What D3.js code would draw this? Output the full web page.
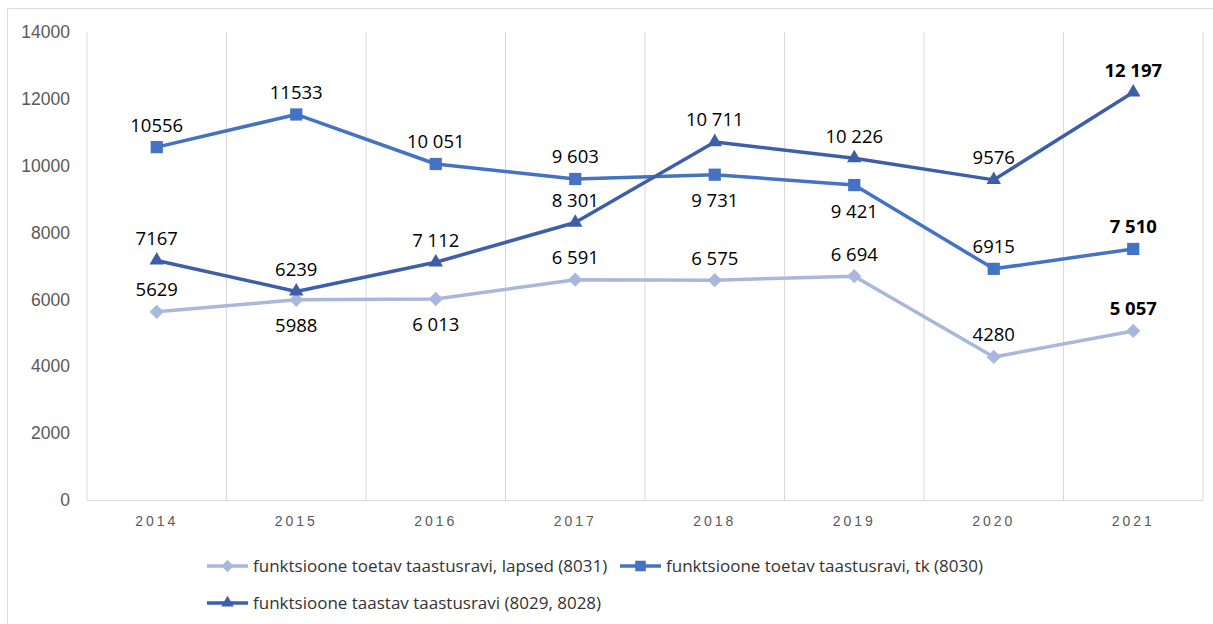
<!DOCTYPE html>
<meta charset="utf-8">
<style>
body { margin: 0; background: #fff; }
svg { display: block; font-family: "Open Sans", "Noto Sans", sans-serif; }
.axis text { fill: #595959; }
.legend text { font-family: "Liberation Sans Narrow", "Open Sans", sans-serif; }
</style>
<svg id="chart" width="1213" height="624"></svg>
<script src="https://d3js.org/d3.v7.min.js"></script>
<script>

var years = ["2014", "2015", "2016", "2017", "2018", "2019", "2020", "2021"];
var yTicks = [0, 2000, 4000, 6000, 8000, 10000, 12000, 14000];

// values per series, and the labels as they are written in the picture
var lapsed = [5629, 5988, 6013, 6591, 6575, 6694, 4280, 5057];
var lapsedText = ["5629", "5988", "6 013", "6 591", "6 575", "6 694", "4280", "5 057"];
var lapsedBelow = [false, true, true, false, false, false, false, false];

var tk = [10556, 11533, 10051, 9603, 9731, 9421, 6915, 7510];
var tkText = ["10556", "11533", "10 051", "9 603", "9 731", "9 421", "6915", "7 510"];
var tkBelow = [false, false, false, false, true, true, false, false];

var taastav = [7167, 6239, 7112, 8301, 10711, 10226, 9576, 12197];
var taastavText = ["7167", "6239", "7 112", "8 301", "10 711", "10 226", "9576", "12 197"];
var taastavBelow = [false, false, false, false, false, false, false, false];

var series = [
  {name: "funktsioone toetav taastusravi, lapsed (8031)", values: lapsed, text: lapsedText, below: lapsedBelow, color: "#a9b7dd", symbol: d3.symbolDiamond2, size: 130},
  {name: "funktsioone toetav taastusravi, tk (8030)", values: tk, text: tkText, below: tkBelow, color: "#4472c4", symbol: d3.symbolSquare2, size: 190},
  {name: "funktsioone taastav taastusravi (8029, 8028)", values: taastav, text: taastavText, below: taastavBelow, color: "#3d5ea9", symbol: d3.symbolTriangle2, size: 150}
];

var svg = d3.select("svg");

// outer frame
svg.append("rect")
    .attr("x", 7.5).attr("y", 8.5)
    .attr("width", 1220).attr("height", 640)
    .attr("fill", "none")
    .attr("stroke", "#dadde3");

var x = d3.scaleBand()
    .domain(years)
    .range([87, 1203]);

var y = d3.scaleLinear()
    .domain([0, 14000])
    .range([500, 32]);

// vertical gridlines between categories
svg.append("g")
  .selectAll("line")
  .data(d3.range(years.length + 1))
  .enter().append("line")
    .attr("x1", function(i) { return 87 + i * x.bandwidth(); })
    .attr("x2", function(i) { return 87 + i * x.bandwidth(); })
    .attr("y1", y(14000))
    .attr("y2", y(0))
    .attr("stroke", "#d9d9d9")
    .attr("stroke-width", 1);

svg.append("line")
    .attr("x1", 87).attr("x2", 1203)
    .attr("y1", y(0) + 0.5).attr("y2", y(0) + 0.5)
    .attr("stroke", "#d9d9d9");

var yAxis = svg.append("g")
    .attr("class", "axis")
    .attr("transform", "translate(70,0)")
    .call(d3.axisLeft(y).tickValues(yTicks).tickSize(0).tickPadding(0).tickFormat(d3.format("d")));
yAxis.select(".domain").remove();
yAxis.selectAll("text").attr("font-size", 17.5);

var xAxis = svg.append("g")
    .attr("class", "axis")
    .attr("transform", "translate(0," + y(0) + ")")
    .call(d3.axisBottom(x).tickSize(0).tickPadding(16));
xAxis.select(".domain").remove();
xAxis.selectAll("text")
    .attr("font-size", 14)
    .attr("letter-spacing", "3px");

var line = d3.line()
    .x(function(d, i) { return x(years[i]) + x.bandwidth() / 2; })
    .y(function(d) { return y(d); });

var g = svg.selectAll(".series")
  .data(series)
  .enter().append("g")
    .attr("class", "series");

g.append("path")
    .attr("d", function(s) { return line(s.values); })
    .attr("fill", "none")
    .attr("stroke", function(s) { return s.color; })
    .attr("stroke-width", 3.5)
    .attr("stroke-linejoin", "round");

g.each(function(s) {
  var sel = d3.select(this);
  sel.selectAll("path.mark")
    .data(s.values)
    .enter().append("path")
      .attr("class", "mark")
      .attr("d", d3.symbol().type(s.symbol).size(s.size))
      .attr("transform", function(d, i) {
        return "translate(" + (x(years[i]) + x.bandwidth() / 2) + "," + y(d) + ")";
      })
      .attr("fill", s.color);

  sel.selectAll("text")
    .data(s.values)
    .enter().append("text")
      .attr("x", function(d, i) { return x(years[i]) + x.bandwidth() / 2; })
      .attr("y", function(d, i) { return y(d) + (s.below[i] ? 26 : -22); })
      .attr("dy", "0.35em")
      .attr("text-anchor", "middle")
      .attr("font-size", 18.5)
      .attr("font-weight", function(d, i) { return i === years.length - 1 ? "bold" : "normal"; })
      .attr("fill", "#000")
      .text(function(d, i) { return s.text[i]; });
});

// legend
var legendPos = [[207, 566], [620, 566], [207, 603]];
var legend = svg.append("g")
    .attr("class", "legend")
  .selectAll("g")
  .data(series)
  .enter().append("g")
    .attr("transform", function(s, i) { return "translate(" + legendPos[i][0] + "," + legendPos[i][1] + ")"; });

legend.append("line")
    .attr("x1", 0).attr("x2", 41)
    .attr("stroke", function(s) { return s.color; })
    .attr("stroke-width", 3.5);

legend.append("path")
    .attr("d", function(s) { return d3.symbol().type(s.symbol).size(s.size * 0.75)(); })
    .attr("transform", "translate(20.5,0)")
    .attr("fill", function(s) { return s.color; });

legend.append("text")
    .attr("x", 46)
    .attr("dy", "0.35em")
    .attr("font-size", 17)
    .attr("fill", "#333")
    .text(function(s) { return s.name; });

</script>
